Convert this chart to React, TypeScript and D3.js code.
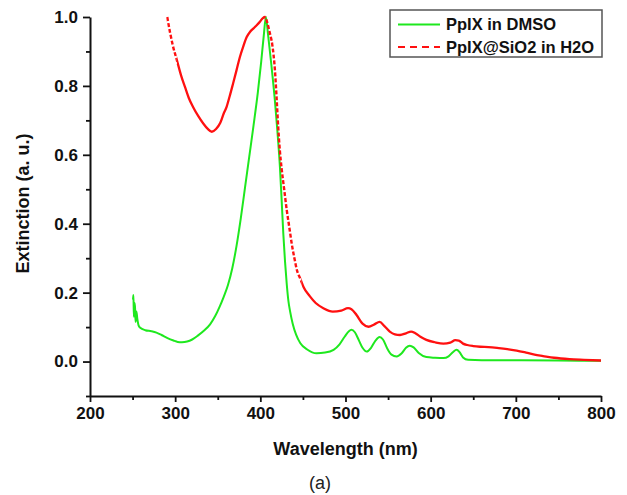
import { useRef, useEffect } from 'react'
import * as d3 from 'd3'

const W = 627
const H = 495
const margin = { left: 90, right: 26, top: 17, bottom: 99 }

// wavelength (nm), extinction (a. u.)
const dmso: [number, number][] = [
  [250.5, 0.18], [251, 0.193], [251.5, 0.13], [252.5, 0.17], [253, 0.15], [253.5, 0.115],
  [254.5, 0.145], [255.5, 0.125], [257, 0.105], [259, 0.098], [265, 0.091], [272, 0.088],
  [278, 0.084], [284, 0.077], [291, 0.068], [298, 0.061], [303, 0.057], [308, 0.056],
  [314, 0.058], [320, 0.064], [327, 0.076], [334, 0.09], [341, 0.108], [347, 0.132],
  [352, 0.158], [357, 0.188], [362, 0.222], [367, 0.27], [372, 0.335], [377, 0.415],
  [382, 0.505], [387, 0.595], [392, 0.685], [397, 0.78], [401, 0.87], [404, 0.945],
  [406.5, 1.0], [409, 0.95], [413, 0.86], [417, 0.76], [420, 0.67], [423, 0.565],
  [425, 0.47], [427, 0.37], [429, 0.29], [431, 0.225], [433, 0.175], [435, 0.145],
  [438, 0.11], [442, 0.078], [447, 0.053], [455, 0.035], [466, 0.024], [476, 0.026],
  [486, 0.034], [493, 0.05], [499, 0.072], [504, 0.088], [507, 0.092], [511, 0.085],
  [516, 0.06], [520, 0.04], [525, 0.029], [530, 0.04], [535, 0.06], [540, 0.071],
  [544, 0.064], [549, 0.038], [554, 0.02], [560, 0.015], [566, 0.024], [571, 0.04],
  [575.5, 0.046], [580, 0.041], [586, 0.025], [595, 0.013], [605, 0.011], [615, 0.01],
  [621, 0.015], [626, 0.027], [630.5, 0.034], [634, 0.027], [638, 0.012], [644, 0.005],
  [660, 0.004], [700, 0.004], [750, 0.003], [800, 0.002],
]

const sio2: [number, number][] = [
  [290.7, 1.0], [294, 0.955], [297, 0.92], [302, 0.875], [307, 0.83], [311.5, 0.797],
  [316, 0.765], [321, 0.739], [327, 0.713], [333, 0.691], [338, 0.676], [343, 0.667],
  [348, 0.675], [353, 0.693], [357, 0.72], [360.5, 0.74], [364, 0.77], [368, 0.807],
  [372, 0.845], [376, 0.884], [380, 0.915], [384, 0.942], [388, 0.957], [392, 0.967],
  [396, 0.977], [400, 0.988], [403, 0.997], [405.5, 1.0], [408, 0.985], [411, 0.955],
  [414, 0.92], [417, 0.85], [419, 0.77], [421, 0.68], [423, 0.61], [425, 0.56],
  [428, 0.5], [431, 0.44], [434, 0.39], [437, 0.34], [440, 0.3], [443, 0.265],
  [447, 0.24], [451, 0.215], [458, 0.19], [465, 0.17], [474, 0.155], [485, 0.145],
  [495, 0.148], [503, 0.155], [507, 0.152], [513, 0.135], [520, 0.11], [527, 0.101],
  [534, 0.108], [540, 0.115], [546, 0.102], [552, 0.087], [558, 0.079], [564, 0.077],
  [571, 0.082], [577, 0.087], [582, 0.082], [588, 0.072], [595, 0.063], [605, 0.056],
  [615, 0.052], [623, 0.055], [629, 0.062], [633, 0.061], [638, 0.052], [643, 0.048],
  [650, 0.045], [658, 0.043], [668, 0.042], [680, 0.039], [690, 0.036], [701, 0.032],
  [712, 0.026], [722, 0.02], [732, 0.016], [745, 0.011], [763, 0.007], [780, 0.005],
  [800, 0.003],
]

// wavelength ranges where the red trace shows its dashes
const dashedRanges: [number, number][] = [[290, 302], [406, 448]]

const xMajor = [200, 300, 400, 500, 600, 700, 800]
const xMinor = [250, 350, 450, 550, 650, 750]
const yMajor = [0, 0.2, 0.4, 0.6, 0.8, 1.0]
const yMinor = [-0.1, 0.1, 0.3, 0.5, 0.7, 0.9]

const legendItems = [
  { label: 'PpIX in DMSO', color: '#1ee81e', dash: null },
  { label: 'PpIX@SiO2 in H2O', color: '#ff1010', dash: '7,5' },
]

const font = '"Liberation Sans", Arial, sans-serif'

export default function App() {
  const ref = useRef<SVGSVGElement>(null)

  useEffect(() => {
    const svg = d3.select(ref.current)
    svg.selectAll('*').remove()

    const x = d3.scaleLinear().domain([200, 800]).range([margin.left, W - margin.right])
    const y = d3.scaleLinear().domain([-0.1, 1.0]).range([H - margin.bottom, margin.top])

    const line = d3.line<[number, number]>()
      .x(d => x(d[0]))
      .y(d => y(d[1]))
      .curve(d3.curveMonotoneX)

    const defs = svg.append('defs')
    const dashClip = defs.append('clipPath').attr('id', 'dashClip')
    dashedRanges.forEach(([a, b]) => {
      dashClip.append('rect').attr('x', x(a)).attr('y', 0).attr('width', x(b) - x(a)).attr('height', H)
    })
    const solidClip = defs.append('clipPath').attr('id', 'solidClip')
    const edges = [200, ...dashedRanges.flat(), 800]
    for (let i = 0; i < edges.length; i += 2) {
      solidClip.append('rect').attr('x', x(edges[i])).attr('y', 0)
        .attr('width', Math.max(0, x(edges[i + 1]) - x(edges[i]))).attr('height', H)
    }

    // axes
    svg.append('g').attr('transform', `translate(0,${y(-0.1)})`)
      .call(d3.axisBottom(x).tickValues(xMajor).tickSize(6).tickSizeOuter(0).tickPadding(5).tickFormat(d3.format('d')))
    svg.append('g').attr('transform', `translate(0,${y(-0.1)})`)
      .call(d3.axisBottom(x).tickValues(xMinor).tickSize(4).tickSizeOuter(0).tickFormat(() => ''))
      .select('.domain').remove()

    svg.append('g').attr('transform', `translate(${x(200)},0)`)
      .call(d3.axisLeft(y).tickValues(yMajor).tickSize(7).tickSizeOuter(0).tickPadding(5).tickFormat(d3.format('.1f')))
    svg.append('g').attr('transform', `translate(${x(200)},0)`)
      .call(d3.axisLeft(y).tickValues(yMinor).tickSize(4).tickSizeOuter(0).tickFormat(() => ''))
      .select('.domain').remove()

    svg.selectAll('.domain').attr('stroke', '#111').attr('stroke-width', 2)
    svg.selectAll('.tick line').attr('stroke', '#111').attr('stroke-width', 1.8)
    svg.selectAll('.tick text')
      .attr('font-family', font).attr('font-weight', 'bold').attr('font-size', 17).attr('fill', '#111')

    // curves
    svg.append('path').datum(dmso)
      .attr('d', line).attr('fill', 'none')
      .attr('stroke', legendItems[0].color).attr('stroke-width', 2)

    svg.append('path').datum(sio2)
      .attr('d', line).attr('fill', 'none').attr('clip-path', 'url(#solidClip)')
      .attr('stroke', legendItems[1].color).attr('stroke-width', 2.3)
    svg.append('path').datum(sio2)
      .attr('d', line).attr('fill', 'none').attr('clip-path', 'url(#dashClip)')
      .attr('stroke', legendItems[1].color).attr('stroke-width', 2.4)
      .attr('stroke-dasharray', '4,2')

    // axis titles
    svg.append('text')
      .attr('x', (x(200) + x(800)) / 2).attr('y', 455)
      .attr('text-anchor', 'middle')
      .attr('font-family', font).attr('font-weight', 'bold').attr('font-size', 18).attr('fill', '#111')
      .text('Wavelength (nm)')

    svg.append('text')
      .attr('transform', `translate(29,${(y(-0.1) + y(1.0)) / 2 - 3}) rotate(-90)`)
      .attr('text-anchor', 'middle')
      .attr('font-family', font).attr('font-weight', 'bold').attr('font-size', 18).attr('fill', '#111')
      .text('Extinction (a. u.)')

    svg.append('text')
      .attr('x', 320).attr('y', 489)
      .attr('text-anchor', 'middle')
      .attr('font-family', font).attr('font-size', 18).attr('fill', '#222')
      .text('(a)')

    // legend
    const lg = svg.append('g').attr('transform', 'translate(390,10)')
    lg.append('rect').attr('width', 212).attr('height', 47)
      .attr('fill', '#fff').attr('stroke', '#555').attr('stroke-width', 1.5)
    legendItems.forEach((it, i) => {
      const cy = 14.5 + i * 22.5
      lg.append('line').attr('x1', 8).attr('x2', 50).attr('y1', cy).attr('y2', cy)
        .attr('stroke', it.color).attr('stroke-width', 2.2)
        .attr('stroke-dasharray', it.dash)
      lg.append('text').attr('x', 56).attr('y', cy).attr('dy', '0.36em')
        .attr('font-family', font).attr('font-weight', 'bold').attr('font-size', 16.5).attr('fill', '#111')
        .text(it.label)
    })
  }, [])

  return (
    <svg ref={ref} width={W} height={H} style={{ position: 'absolute', left: 0, top: 0, background: '#fff' }} />
  )
}
